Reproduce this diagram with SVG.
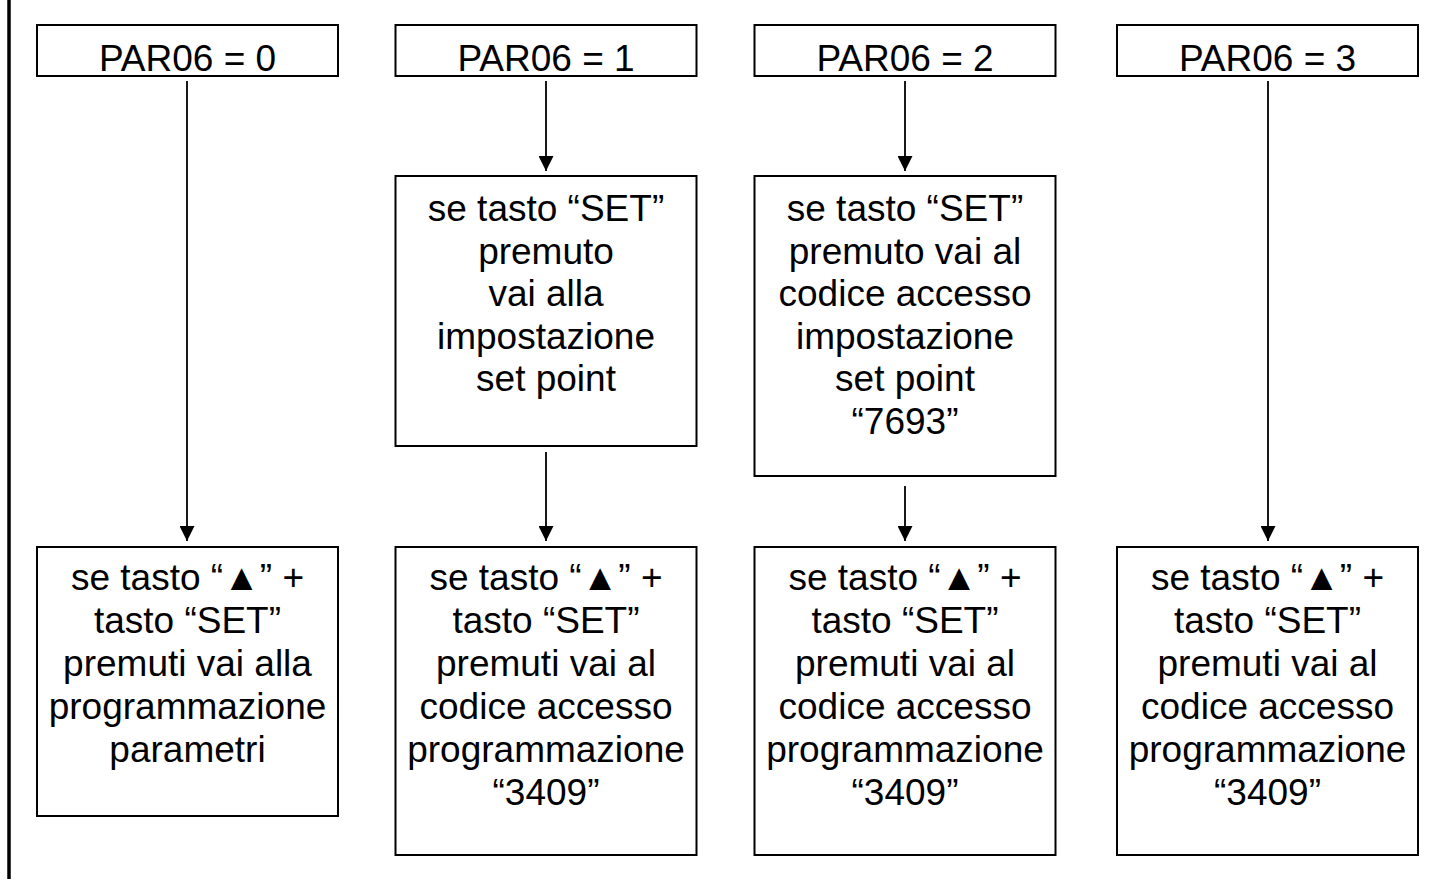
<svg xmlns="http://www.w3.org/2000/svg" width="1434" height="879" viewBox="0 0 1434 879">
<defs>
<style>
.box{fill:#fff;stroke:#000;stroke-width:2}
.t{font-family:"Liberation Sans",Arial,sans-serif;font-size:37px;fill:#000;text-anchor:middle}
.c{stroke:#000;stroke-width:1.8;fill:none}
</style>
<marker id="ah" viewBox="0 0 15 15" refX="15" refY="7.5" markerWidth="15" markerHeight="15" markerUnits="userSpaceOnUse" orient="auto">
<path d="M0,0 L15,7.5 L0,15 z" fill="#000"/>
</marker>
</defs>
<rect width="1434" height="879" fill="#fff"/>
<line x1="9" y1="0" x2="9" y2="879" stroke="#000" stroke-width="3.5"/>

<g id="top0"><rect class="box" x="37" y="25" width="301" height="51"/><text class="t" x="187.5" y="70.5">PAR06 = 0</text></g>
<g id="top1"><rect class="box" x="395.5" y="25" width="301" height="51"/><text class="t" x="546" y="70.5">PAR06 = 1</text></g>
<g id="top2"><rect class="box" x="754.5" y="25" width="301" height="51"/><text class="t" x="905" y="70.5">PAR06 = 2</text></g>
<g id="top3"><rect class="box" x="1117" y="25" width="301" height="51"/><text class="t" x="1267.5" y="70.5">PAR06 = 3</text></g>

<g id="mid1"><rect class="box" x="395.5" y="176" width="301" height="270"/>
<text class="t" x="546" y="221"><tspan x="546" y="221">se tasto “SET”</tspan><tspan x="546" y="263.5">premuto</tspan><tspan x="546" y="306">vai alla</tspan><tspan x="546" y="348.5">impostazione</tspan><tspan x="546" y="391">set point</tspan></text></g>
<g id="mid2"><rect class="box" x="754.5" y="176" width="301" height="300"/>
<text class="t" x="905" y="221"><tspan x="905" y="221">se tasto “SET”</tspan><tspan x="905" y="263.5">premuto vai al</tspan><tspan x="905" y="306">codice accesso</tspan><tspan x="905" y="348.5">impostazione</tspan><tspan x="905" y="391">set point</tspan><tspan x="905" y="433.5">“7693”</tspan></text></g>

<g id="bot0"><rect class="box" x="37" y="547" width="301" height="269"/>
<text class="t" x="187.5" y="590"><tspan x="187.5" y="590">se tasto “▲” +</tspan><tspan x="187.5" y="633">tasto “SET”</tspan><tspan x="187.5" y="676">premuti vai alla</tspan><tspan x="187.5" y="719">programmazione</tspan><tspan x="187.5" y="762">parametri</tspan></text></g>
<g id="bot1"><rect class="box" x="395.5" y="547" width="301" height="308"/>
<text class="t" x="546" y="590"><tspan x="546" y="590">se tasto “▲” +</tspan><tspan x="546" y="633">tasto “SET”</tspan><tspan x="546" y="676">premuti vai al</tspan><tspan x="546" y="719">codice accesso</tspan><tspan x="546" y="762">programmazione</tspan><tspan x="546" y="805">“3409”</tspan></text></g>
<g id="bot2"><rect class="box" x="754.5" y="547" width="301" height="308"/>
<text class="t" x="905" y="590"><tspan x="905" y="590">se tasto “▲” +</tspan><tspan x="905" y="633">tasto “SET”</tspan><tspan x="905" y="676">premuti vai al</tspan><tspan x="905" y="719">codice accesso</tspan><tspan x="905" y="762">programmazione</tspan><tspan x="905" y="805">“3409”</tspan></text></g>
<g id="bot3"><rect class="box" x="1117" y="547" width="301" height="308"/>
<text class="t" x="1267.5" y="590"><tspan x="1267.5" y="590">se tasto “▲” +</tspan><tspan x="1267.5" y="633">tasto “SET”</tspan><tspan x="1267.5" y="676">premuti vai al</tspan><tspan x="1267.5" y="719">codice accesso</tspan><tspan x="1267.5" y="762">programmazione</tspan><tspan x="1267.5" y="805">“3409”</tspan></text></g>

<g id="connectors">
<line class="c" x1="187" y1="81" x2="187" y2="541" marker-end="url(#ah)"/>
<line class="c" x1="546" y1="81" x2="546" y2="171" marker-end="url(#ah)"/>
<line class="c" x1="546" y1="452" x2="546" y2="541" marker-end="url(#ah)"/>
<line class="c" x1="905" y1="81" x2="905" y2="171" marker-end="url(#ah)"/>
<line class="c" x1="905" y1="486" x2="905" y2="541" marker-end="url(#ah)"/>
<line class="c" x1="1268" y1="81" x2="1268" y2="541" marker-end="url(#ah)"/>
</g>
</svg>
